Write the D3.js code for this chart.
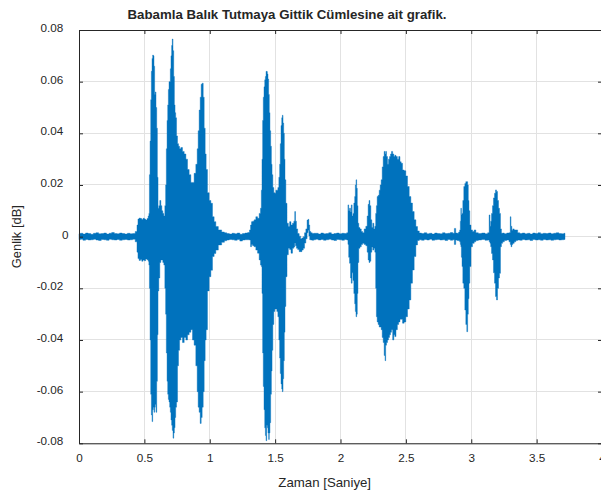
<!DOCTYPE html>
<html>
<head>
<meta charset="utf-8">
<script src="https://cdn.jsdelivr.net/npm/d3@7"></script>
<style>
  body { margin: 0; background: #ffffff; }
  svg { display: block; }
  text { font-family: "Liberation Sans", Arial, Helvetica, sans-serif; fill: #262626; }
</style>
</head>
<body>
<svg id="chart" width="601" height="494"></svg>
<script>
// Speech waveform of the sentence, stored as its amplitude envelope:
// for each time (s) the highest and lowest sample value in that slice.
const timeSec = [
  0.00,0.02,0.04,0.06,0.08,0.10,0.12,0.14,0.16,0.18,0.20,0.22,0.24,0.26,0.28,0.30,0.32,0.34,0.36,0.38,0.40,0.42,
  0.440,0.447,0.455,0.465,0.475,0.485,0.495,0.505,0.515,0.525,0.533,
  0.536,0.541,0.546,0.551,0.556,0.561,0.566,0.571,0.576,0.581,0.586,0.592,0.597,0.602,0.607,0.614,0.622,0.630,0.637,0.645,0.653,0.660,
  0.665,0.671,0.676,0.681,0.686,0.691,0.696,0.701,0.706,0.711,0.716,0.722,0.727,0.732,0.737,0.742,0.750,0.757,0.765,0.773,0.785,0.798,0.811,0.824,0.836,0.849,0.862,0.874,0.887,
  0.900,0.908,0.915,0.923,0.931,0.938,0.946,0.954,0.961,0.969,0.976,0.989,1.002,1.015,1.027,1.040,1.053,1.078,1.104,
  1.12,1.14,1.16,1.18,1.20,1.22,1.24,1.26,1.28,1.30,
  1.308,1.316,1.323,1.333,1.346,1.359,1.372,1.384,1.392,1.397,1.402,1.407,1.412,1.418,1.423,1.428,1.433,1.438,1.443,1.448,1.453,1.458,1.463,1.469,1.474,1.479,1.486,1.494,1.502,1.509,1.517,1.525,1.532,1.537,1.542,1.548,1.553,1.558,1.563,1.568,1.573,1.578,1.586,1.596,
  1.606,1.616,1.627,1.639,1.647,1.653,1.659,1.667,1.678,1.690,1.700,1.710,1.720,1.730,1.740,1.749,1.755,1.761,1.768,1.778,1.790,1.800,
  1.82,1.84,1.86,1.88,1.90,1.92,1.94,1.96,1.98,2.00,2.02,2.04,2.054,
  2.060,2.065,2.073,2.080,2.085,2.093,2.098,2.106,2.111,2.116,2.121,2.126,2.131,2.136,2.144,2.154,2.164,2.175,2.187,2.200,2.208,2.215,2.221,2.228,2.236,2.243,2.251,2.259,2.266,2.272,2.277,2.284,2.292,2.300,2.307,2.315,2.323,2.330,2.338,2.343,2.348,2.356,2.363,2.371,2.379,2.386,2.394,2.404,2.412,2.419,2.430,2.440,2.450,2.460,2.468,2.481,2.493,2.506,2.519,2.532,2.544,2.557,2.570,2.583,2.595,
  2.61,2.63,2.65,2.67,2.69,2.71,2.73,2.75,2.77,2.79,2.81,2.83,2.85,2.866,2.876,2.886,2.898,2.909,
  2.914,2.919,2.922,2.927,2.932,2.939,2.947,2.955,2.962,2.970,2.975,2.980,2.985,2.993,3.003,3.016,3.029,3.041,3.067,3.092,3.118,3.133,
  3.141,3.146,3.151,3.159,3.166,3.174,3.182,3.189,3.197,3.205,3.212,3.220,3.227,3.235,3.245,3.261,3.281,3.296,3.301,3.307,3.314,3.322,3.335,3.347,3.363,
  3.38,3.40,3.42,3.44,3.46,3.48,3.50,3.52,3.54,3.56,3.58,3.60,3.62,3.64,3.66,3.68,3.70,3.717
];
const upperEnv = [
  0.0011,0.0013,0.0010,0.0014,0.0012,0.0009,0.0013,0.0015,0.0011,0.0012,0.0014,0.0010,0.0013,0.0016,0.0012,0.0011,0.0014,0.0012,0.0010,0.0013,0.0011,0.0012,
  0.0020,0.0045,0.0068,0.0072,0.0070,0.0066,0.0071,0.0068,0.0064,0.0070,0.0080,
  0.0090,0.0240,0.0370,0.0530,0.0640,0.0690,0.0703,0.0700,0.0660,0.0550,0.0560,0.0500,0.0420,0.0230,0.0110,0.0120,0.0140,0.0120,0.0100,0.0090,0.0080,0.0120,
  0.0200,0.0340,0.0450,0.0510,0.0570,0.0600,0.0600,0.0650,0.0700,0.0740,0.0765,0.0720,0.0620,0.0510,0.0480,0.0460,0.0390,0.0360,0.0350,0.0340,0.0345,0.0330,0.0320,0.0300,0.0260,0.0240,0.0210,0.0210,0.0245,
  0.0280,0.0340,0.0410,0.0490,0.0540,0.0590,0.0594,0.0540,0.0420,0.0320,0.0260,0.0170,0.0140,0.0129,0.0077,0.0058,0.0039,0.0026,0.0018,
  0.0015,0.0012,0.0010,0.0013,0.0011,0.0014,0.0009,0.0012,0.0014,0.0016,
  0.0026,0.0045,0.0058,0.0060,0.0065,0.0077,0.0071,0.0090,0.0110,0.0180,0.0300,0.0450,0.0540,0.0580,0.0607,0.0620,0.0640,0.0639,0.0630,0.0610,0.0550,0.0480,0.0410,0.0350,0.0280,0.0240,0.0190,0.0170,0.0168,0.0180,0.0180,0.0190,0.0230,0.0280,0.0360,0.0430,0.0460,0.0470,0.0440,0.0400,0.0300,0.0220,0.0129,0.0052,
  0.0039,0.0058,0.0045,0.0052,0.0060,0.0097,0.0060,0.0030,0.0012,0.0002,-0.0008,-0.0005,0.0000,0.0015,0.0030,0.0064,0.0067,0.0045,0.0020,0.0015,0.0012,0.0013,
  0.0013,0.0010,0.0014,0.0011,0.0012,0.0015,0.0010,0.0012,0.0014,0.0011,0.0013,0.0012,0.0015,
  0.0123,0.0100,0.0110,0.0095,0.0123,0.0080,0.0090,0.0130,0.0155,0.0200,0.0220,0.0187,0.0120,0.0052,0.0035,0.0030,0.0020,0.0015,0.0030,0.0040,0.0080,0.0125,0.0140,0.0120,0.0065,0.0035,0.0052,0.0030,0.0040,0.0090,0.0120,0.0155,0.0160,0.0180,0.0200,0.0220,0.0270,0.0310,0.0330,0.0320,0.0330,0.0310,0.0280,0.0300,0.0310,0.0320,0.0330,0.0320,0.0310,0.0315,0.0310,0.0300,0.0310,0.0290,0.0284,0.0258,0.0255,0.0235,0.0194,0.0155,0.0130,0.0097,0.0065,0.0039,0.0022,
  0.0014,0.0012,0.0015,0.0011,0.0013,0.0010,0.0014,0.0012,0.0011,0.0015,0.0012,0.0013,0.0016,0.0013,0.0032,0.0014,0.0013,0.0018,
  0.0026,0.0060,0.0110,0.0085,0.0090,0.0140,0.0194,0.0206,0.0213,0.0213,0.0200,0.0140,0.0100,0.0045,0.0026,0.0020,0.0026,0.0015,0.0012,0.0014,0.0011,0.0015,
  0.0084,0.0040,0.0060,0.0090,0.0120,0.0150,0.0168,0.0181,0.0175,0.0140,0.0110,0.0090,0.0030,0.0013,0.0014,0.0011,0.0014,0.0015,0.0077,0.0040,0.0025,0.0030,0.0026,0.0026,0.0015,
  0.0012,0.0014,0.0011,0.0013,0.0010,0.0014,0.0012,0.0015,0.0011,0.0013,0.0012,0.0014,0.0011,0.0013,0.0015,0.0012,0.0011,0.0013
];
const lowerEnv = [
  -0.0012,-0.0010,-0.0014,-0.0011,-0.0013,-0.0012,-0.0010,-0.0013,-0.0015,-0.0011,-0.0012,-0.0014,-0.0010,-0.0012,-0.0013,-0.0011,-0.0014,-0.0012,-0.0011,-0.0013,-0.0012,-0.0010,
  -0.0020,-0.0060,-0.0085,-0.0092,-0.0088,-0.0095,-0.0090,-0.0093,-0.0087,-0.0089,-0.0095,
  -0.0110,-0.0200,-0.0400,-0.0610,-0.0690,-0.0716,-0.0670,-0.0660,-0.0680,-0.0660,-0.0650,-0.0680,-0.0560,-0.0380,-0.0210,-0.0160,-0.0100,-0.0090,-0.0090,-0.0100,-0.0110,-0.0200,
  -0.0300,-0.0450,-0.0560,-0.0610,-0.0630,-0.0640,-0.0660,-0.0680,-0.0710,-0.0730,-0.0750,-0.0780,-0.0760,-0.0740,-0.0700,-0.0660,-0.0640,-0.0500,-0.0440,-0.0400,-0.0390,-0.0410,-0.0390,-0.0400,-0.0380,-0.0370,-0.0360,-0.0400,-0.0420,
  -0.0500,-0.0600,-0.0660,-0.0680,-0.0723,-0.0700,-0.0660,-0.0600,-0.0480,-0.0400,-0.0360,-0.0210,-0.0155,-0.0130,-0.0077,-0.0065,-0.0052,-0.0032,-0.0022,
  -0.0016,-0.0013,-0.0011,-0.0012,-0.0014,-0.0011,-0.0017,-0.0013,-0.0012,-0.0012,
  -0.0013,-0.0039,-0.0030,-0.0035,-0.0039,-0.0052,-0.0064,-0.0090,-0.0110,-0.0116,-0.0220,-0.0450,-0.0580,-0.0670,-0.0740,-0.0770,-0.0790,-0.0730,-0.0740,-0.0760,-0.0785,-0.0760,-0.0720,-0.0610,-0.0520,-0.0440,-0.0340,-0.0290,-0.0280,-0.0280,-0.0290,-0.0310,-0.0400,-0.0470,-0.0530,-0.0570,-0.0590,-0.0600,-0.0550,-0.0480,-0.0370,-0.0270,-0.0155,-0.0070,
  -0.0045,-0.0050,-0.0064,-0.0045,-0.0040,-0.0025,-0.0035,-0.0045,-0.0050,-0.0058,-0.0058,-0.0052,-0.0045,-0.0025,-0.0008,0.0015,0.0025,0.0003,-0.0012,-0.0013,-0.0014,-0.0012,
  -0.0010,-0.0013,-0.0011,-0.0014,-0.0012,-0.0010,-0.0013,-0.0015,-0.0011,-0.0012,-0.0014,-0.0011,-0.0013,
  -0.0030,-0.0080,-0.0103,-0.0160,-0.0180,-0.0140,-0.0170,-0.0220,-0.0260,-0.0290,-0.0310,-0.0300,-0.0220,-0.0100,-0.0045,-0.0039,-0.0030,-0.0026,-0.0030,-0.0035,-0.0060,-0.0090,-0.0100,-0.0095,-0.0060,-0.0040,-0.0052,-0.0045,-0.0060,-0.0200,-0.0310,-0.0330,-0.0340,-0.0350,-0.0350,-0.0360,-0.0390,-0.0410,-0.0460,-0.0480,-0.0420,-0.0410,-0.0400,-0.0390,-0.0380,-0.0370,-0.0360,-0.0400,-0.0380,-0.0387,-0.0360,-0.0340,-0.0330,-0.0320,-0.0320,-0.0335,-0.0330,-0.0310,-0.0280,-0.0245,-0.0180,-0.0129,-0.0077,-0.0032,-0.0015,
  -0.0012,-0.0014,-0.0011,-0.0013,-0.0010,-0.0014,-0.0012,-0.0011,-0.0013,-0.0012,-0.0015,-0.0011,-0.0014,-0.0012,-0.0030,-0.0013,-0.0015,-0.0016,
  -0.0020,-0.0030,-0.0039,-0.0080,-0.0116,-0.0180,-0.0200,-0.0284,-0.0340,-0.0368,-0.0300,-0.0240,-0.0180,-0.0116,-0.0039,-0.0026,-0.0020,-0.0015,-0.0013,-0.0011,-0.0014,-0.0013,
  -0.0020,-0.0026,-0.0039,-0.0065,-0.0090,-0.0140,-0.0180,-0.0232,-0.0245,-0.0200,-0.0160,-0.0142,-0.0039,-0.0026,-0.0020,-0.0015,-0.0013,-0.0020,-0.0030,-0.0039,-0.0030,-0.0026,-0.0020,-0.0015,-0.0013,
  -0.0014,-0.0011,-0.0013,-0.0012,-0.0015,-0.0011,-0.0013,-0.0012,-0.0014,-0.0011,-0.0013,-0.0012,-0.0014,-0.0012,-0.0011,-0.0013,-0.0012,-0.0011
];

const xTickValues = [0, 0.5, 1, 1.5, 2, 2.5, 3, 3.5, 4];
const xTickLabels = ["0", "0.5", "1", "1.5", "2", "2.5", "3", "3.5", "4"];
const yTickValues = [-0.08, -0.06, -0.04, -0.02, 0, 0.02, 0.04, 0.06, 0.08];
const yTickLabels = ["-0.08", "-0.06", "-0.04", "-0.02", "0", "0.02", "0.04", "0.06", "0.08"];

const titleText = "Babamla Balık Tutmaya Gittik Cümlesine ait grafik.";
const xLabelText = "Zaman [Saniye]";
const yLabelText = "Genlik [dB]";

// ---- layout ----
const box = { left: 79, right: 602, top: 30, bottom: 443.3 };
const ink = "#262626";
const gridColor = "#e2e2e2";
const lineColor = "#0072BD";

const svg = d3.select("#chart");
const x = d3.scaleLinear().domain([0, 4]).range([box.left, box.right]);
const y = d3.scaleLinear().domain([-0.08, 0.08]).range([box.bottom, box.top]);

// grid
const grid = svg.append("g").attr("shape-rendering", "crispEdges");
grid.selectAll("line.gx").data(xTickValues).join("line")
  .attr("x1", d => x(d)).attr("x2", d => x(d))
  .attr("y1", box.top).attr("y2", box.bottom)
  .attr("stroke", gridColor).attr("stroke-width", 1);
grid.selectAll("line.gy").data(yTickValues).join("line")
  .attr("x1", box.left).attr("x2", box.right)
  .attr("y1", d => y(d)).attr("y2", d => y(d))
  .attr("stroke", gridColor).attr("stroke-width", 1);

// waveform envelope, stepped so each slice reads as a column of samples
const n = Math.min(timeSec.length, upperEnv.length, lowerEnv.length);
const samples = d3.range(n).map(i => ({ t: timeSec[i], hi: upperEnv[i], lo: lowerEnv[i] }));
const area = d3.area()
  .curve(d3.curveStep)
  .x(d => x(d.t))
  .y0(d => y(d.lo))
  .y1(d => y(d.hi));
svg.append("path")
  .datum(samples)
  .attr("d", area)
  .attr("fill", lineColor)
  .attr("stroke", lineColor)
  .attr("stroke-width", 0.4);

// axes (ticks pointing inward, box on all four sides)
function styleAxis(g) {
  g.selectAll(".domain").attr("stroke", ink).attr("stroke-width", 1);
  g.selectAll(".tick line").attr("stroke", ink).attr("stroke-width", 1);
  g.selectAll(".tick text")
    .attr("fill", ink)
    .style("font-family", '"Liberation Sans", Arial, Helvetica, sans-serif')
    .style("font-size", "11.7px");
}

svg.append("g")
  .attr("transform", `translate(0,${box.bottom})`)
  .call(d3.axisBottom(x).tickValues(xTickValues)
    .tickFormat((d, i) => xTickLabels[i])
    .tickSizeInner(-4).tickSizeOuter(0).tickPadding(10))
  .call(styleAxis);

svg.append("g")
  .attr("transform", `translate(0,${box.top})`)
  .call(d3.axisTop(x).tickValues(xTickValues)
    .tickFormat("").tickSizeInner(-4).tickSizeOuter(0))
  .call(styleAxis);

const leftAxis = svg.append("g")
  .attr("transform", `translate(${box.left},0)`)
  .call(d3.axisLeft(y).tickValues(yTickValues)
    .tickFormat((d, i) => yTickLabels[i])
    .tickSizeInner(-4).tickSizeOuter(0).tickPadding(15.7))
  .call(styleAxis);
leftAxis.selectAll(".tick text").attr("dy", "0.12em");
// the zero label sits a little further right than the others
leftAxis.selectAll(".tick text").filter(d => d === 0).attr("x", -10.5);

svg.append("g")
  .attr("transform", `translate(${box.right},0)`)
  .call(d3.axisRight(y).tickValues(yTickValues)
    .tickFormat("").tickSizeInner(-4).tickSizeOuter(0))
  .call(styleAxis);

// text sized to the measured extent of each label
function fitText(sel, targetWidth) {
  const w = sel.node().getComputedTextLength();
  const size = parseFloat(sel.style("font-size"));
  sel.style("font-size", (size * targetWidth / w).toFixed(2) + "px");
}

const title = svg.append("text")
  .attr("x", 127.5).attr("y", 19.2)
  .attr("text-anchor", "start")
  .style("font-size", "12px")
  .style("font-weight", "bold")
  .attr("fill", "#000")
  .text(titleText);
fitText(title, 319);

const xLabel = svg.append("text")
  .attr("x", 324.7).attr("y", 486.5)
  .attr("text-anchor", "middle")
  .style("font-size", "13px")
  .text(xLabelText);
fitText(xLabel, 92.7);

svg.append("text")
  .attr("transform", "translate(21,236.7) rotate(-90)")
  .attr("text-anchor", "middle")
  .style("font-size", "12.9px")
  .text(yLabelText);
</script>
</body>
</html>
